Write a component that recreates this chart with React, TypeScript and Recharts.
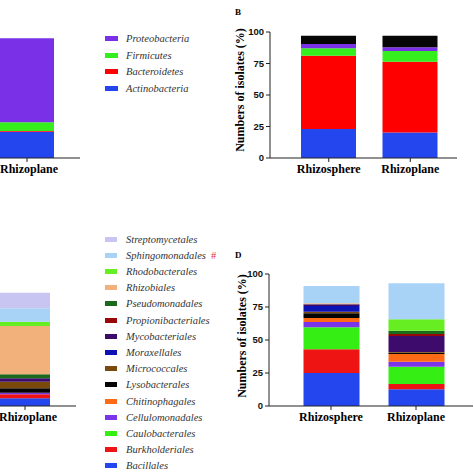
import React from 'react';
import { BarChart, Bar, XAxis, YAxis } from 'recharts';

// phyla, stacked from bottom to top (panels A and B)
const phylumNames = ['Actinobacteria', 'Bacteroidetes', 'Firmicutes', 'Proteobacteria', 'Others'];
const phylumColors = ['#2346ee', '#ff0000', '#35ee1e', '#7a30e6', '#060606'];
const phylumRhizoplaneA = [20.9, 0.5, 6.9, 66.7, 0];
const phylumRhizosphereB = [23, 58.2, 5.9, 3.4, 6.6];
const phylumRhizoplaneB = [20.3, 56.1, 8.5, 3.0, 9.2];

// orders, stacked from bottom to top (panels C and D)
const orderNames = [
  'Bacillales', 'Burkholderiales', 'Caulobacterales', 'Cellulomonadales', 'Chitinophagales',
  'Lysobacterales', 'Micrococcales', 'Moraxellales', 'Mycobacteriales', 'Propionibacteriales',
  'Pseudomonadales', 'Rhizobiales', 'Rhodobacterales', 'Sphingomonadales', 'Streptomycetales',
];
const orderColors = [
  '#2346ee', '#ee1414', '#35ee14', '#7b34e8', '#ff6a16',
  '#050505', '#7a4a0c', '#0c12b4', '#3c0b6c', '#980808',
  '#1b6a1b', '#f2b07a', '#66ee22', '#a8d3f7', '#c9c5f3',
];
const orderRhizoplaneC = [5.8, 3.1, 0, 1.2, 0, 3.3, 5, 0, 2.6, 0, 3, 36.6, 3.3, 10.1, 11.8];
const orderRhizosphereD = [25, 18, 16.6, 4, 3.1, 3.5, 1.2, 4.4, 1.2, 0, 0, 0.8, 0, 13.1, 0];
const orderRhizoplaneD = [12.6, 4.1, 13.1, 3.8, 5.8, 1, 0.6, 0, 12, 1.5, 2.5, 0, 8.7, 27.3, 0];

const yTicks = [0, 25, 50, 75, 100];
const yLabel = 'Numbers of isolates (%)';

const toRow = (site: string, names: string[], values: number[]) => {
  const row: any = { site };
  names.forEach((n, i) => (row[n] = values[i]));
  return row;
};

const serif = 'Liberation Serif, DejaVu Serif, Noto Serif, Times, serif';
const sans = 'Liberation Sans, Arial, sans-serif';

function StackPanel(p: {
  rows: any[]; names: string[]; colors: string[];
  left: number; top: number; width: number; height: number;
  plotTop: number; yWidth: number; rightGap: number;
  padL: number; padR: number; barSize: number; showY: boolean; labelDx?: number;
}) {
  return (
    <div style={{ position: 'absolute', left: p.left, top: p.top }}>
      <BarChart
        width={p.width}
        height={p.height}
        data={p.rows}
        margin={{ top: p.plotTop, right: p.rightGap, left: 0, bottom: 2 }}
      >
        <XAxis
          dataKey="site"
          height={30}
          interval={0}
          padding={{ left: p.padL, right: p.padR }}
          tickSize={4}
          axisLine={{ stroke: '#222' }}
          tickLine={{ stroke: '#222' }}
          tick={{ fontSize: 12, fontFamily: serif, fontWeight: 'bold', fill: '#000', dx: p.labelDx ?? 0 }}
        />
        <YAxis
          hide={!p.showY}
          width={p.yWidth}
          domain={[0, 100]}
          ticks={yTicks}
          tickSize={4}
          axisLine={{ stroke: '#222' }}
          tickLine={{ stroke: '#222' }}
          tick={{ fontSize: 9.5, fontFamily: sans, fontWeight: 'bold', fill: '#111' }}
        />
        {p.names.map((n, i) => (
          <Bar key={n} dataKey={n} stackId="s" fill={p.colors[i]} barSize={p.barSize} isAnimationActive={false} />
        ))}
      </BarChart>
    </div>
  );
}

function Legend({ names, colors, left, firstY, step, swatchW }: any) {
  return (
    <>
      {names.map((n: string, i: number) => (
        <div
          key={n}
          style={{
            position: 'absolute', left, top: firstY + i * step - 8, height: 16,
            display: 'flex', alignItems: 'center', whiteSpace: 'nowrap',
          }}
        >
          <div style={{ width: swatchW, height: 5, background: colors[i], marginRight: 126 - 105 - swatchW }} />
          <span style={{ fontFamily: serif, fontStyle: 'italic', fontSize: 10.5, color: '#333' }}>{n}</span>
          {n === 'Sphingomonadales' && (
            <span style={{ fontFamily: serif, fontSize: 10.5, color: '#e0304a', marginLeft: 5 }}>#</span>
          )}
        </div>
      ))}
    </>
  );
}

function YTitle({ cx, cy }: { cx: number; cy: number }) {
  return (
    <div
      style={{
        position: 'absolute', left: cx - 80, top: cy - 8, width: 160, height: 16, lineHeight: '16px',
        textAlign: 'center', transform: 'rotate(-90deg)', fontFamily: serif, fontWeight: 'bold',
        fontSize: 12, color: '#000', whiteSpace: 'nowrap',
      }}
    >
      {yLabel}
    </div>
  );
}

function PanelLetter({ x, y, text }: { x: number; y: number; text: string }) {
  return (
    <div style={{ position: 'absolute', left: x, top: y, fontFamily: serif, fontWeight: 'bold', fontSize: 9, lineHeight: '10px' }}>
      {text}
    </div>
  );
}

export default function App() {
  const rowsA = [toRow('Rhizoplane', phylumNames, phylumRhizoplaneA)];
  const rowsB = [
    toRow('Rhizosphere', phylumNames, phylumRhizosphereB),
    toRow('Rhizoplane', phylumNames, phylumRhizoplaneB),
  ];
  const rowsC = [toRow('Rhizoplane', orderNames, orderRhizoplaneC)];
  const rowsD = [
    toRow('Rhizosphere', orderNames, orderRhizosphereD),
    toRow('Rhizoplane', orderNames, orderRhizoplaneD),
  ];
  const phylumLegend = phylumNames.slice(0, 4).reverse();
  const phylumLegendColors = phylumColors.slice(0, 4).reverse();

  return (
    <div style={{ position: 'absolute', left: 0, top: 0, width: 474, height: 474, overflow: 'hidden', background: '#fff' }}>
      <StackPanel rows={rowsA} names={phylumNames} colors={phylumColors}
        left={-26} top={0} width={106} height={190} plotTop={32} yWidth={0} rightGap={0}
        padL={0} padR={0} barSize={54} showY={false} labelDx={2} />
      <StackPanel rows={rowsB} names={phylumNames} colors={phylumColors}
        left={225} top={0} width={240} height={190} plotTop={32} yWidth={45} rightGap={8}
        padL={18} padR={6} barSize={55} showY={true} />
      <StackPanel rows={rowsC} names={orderNames} colors={orderColors}
        left={-26} top={245} width={102} height={193} plotTop={29} yWidth={0} rightGap={0}
        padL={0} padR={0} barSize={50} showY={false} labelDx={3} />
      <StackPanel rows={rowsD} names={orderNames} colors={orderColors}
        left={220} top={245} width={254} height={193} plotTop={29} yWidth={49} rightGap={1}
        padL={19.5} padR={14.5} barSize={56} showY={true} />

      <Legend names={phylumLegend} colors={phylumLegendColors} left={105} firstY={38.3} step={16.7} swatchW={13} />
      <Legend names={[...orderNames].reverse()} colors={[...orderColors].reverse()} left={105} firstY={239} step={16.2} swatchW={12} />

      <YTitle cx={240} cy={89.5} />
      <YTitle cx={241.5} cy={336} />
      <PanelLetter x={235} y={7} text="B" />
      <PanelLetter x={235} y={250} text="D" />
    </div>
  );
}
